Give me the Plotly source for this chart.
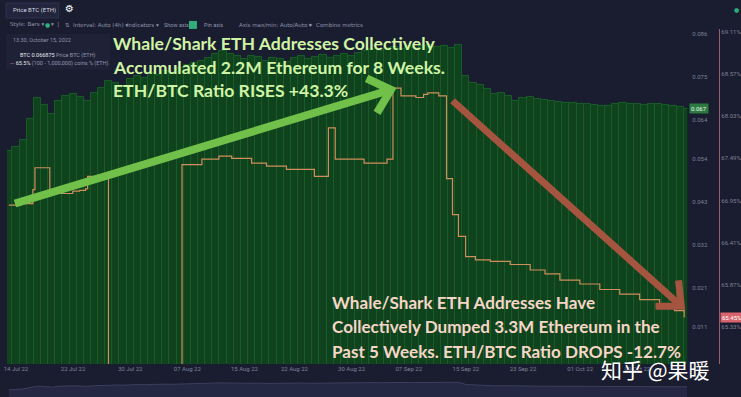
import math
import pandas as pd
import plotly.graph_objects as go

W, H = 741, 397

# ---------------- data ----------------
price_start = "2022-07-13"
price_btc = [
    0.0560, 0.0572, 0.0590, 0.0642, 0.0696, 0.0678, 0.0655, 0.0688, 0.0701, 0.0706,
    0.0698, 0.0688, 0.0709, 0.0721, 0.0739, 0.0734, 0.0727, 0.0745, 0.0752, 0.0747,
    0.0760, 0.0755, 0.0765, 0.0760, 0.0773, 0.0781, 0.0786, 0.0791, 0.0799, 0.0809,
    0.0816, 0.0809, 0.0804, 0.0796, 0.0804, 0.0801, 0.0791, 0.0799, 0.0796, 0.0788,
    0.0799, 0.0804, 0.0796, 0.0801, 0.0806, 0.0799, 0.0804, 0.0809, 0.0804, 0.0811,
    0.0816, 0.0822, 0.0816, 0.0824, 0.0827, 0.0822, 0.0829, 0.0824, 0.0829, 0.0832,
    0.0827, 0.0829, 0.0824, 0.0832, 0.0752, 0.0734, 0.0729, 0.0719, 0.0706, 0.0709,
    0.0701, 0.0688, 0.0696, 0.0698, 0.0693, 0.0691, 0.0688, 0.0685, 0.0683, 0.0683,
    0.0680, 0.0680, 0.0678, 0.0675, 0.0675, 0.0680, 0.0683, 0.0680, 0.0680, 0.0678,
    0.0680, 0.0680, 0.0678, 0.0675, 0.0673, 0.0669,
]

whale_times = [
    "2022-07-13 00:00", "2022-07-14 17:00", "2022-07-16 09:00", "2022-07-16 16:00",
    "2022-07-18 18:00", "2022-07-21 23:00", "2022-07-22 22:00", "2022-07-23 18:00",
    "2022-07-24 01:00", "2022-07-25 13:00", "2022-07-26 23:00", "2022-08-06 06:00",
    "2022-08-09 01:00", "2022-08-11 10:00", "2022-08-13 05:00", "2022-08-16 00:00",
    "2022-08-18 02:00", "2022-08-20 21:00", "2022-08-24 19:00", "2022-08-26 18:00",
    "2022-08-27 17:00", "2022-08-31 18:00", "2022-09-03 23:00", "2022-09-04 19:00",
    "2022-09-05 22:00", "2022-09-08 00:00", "2022-09-09 02:00", "2022-09-09 16:00",
    "2022-09-11 05:00", "2022-09-12 07:00", "2022-09-13 03:00", "2022-09-13 23:00",
    "2022-09-14 23:00", "2022-09-16 08:00", "2022-09-18 10:00", "2022-09-21 05:00",
    "2022-09-24 00:00", "2022-09-26 02:00", "2022-09-28 04:00", "2022-09-30 23:00",
    "2022-10-03 18:00", "2022-10-06 13:00", "2022-10-09 08:00", "2022-10-12 03:00",
    "2022-10-14 05:00", "2022-10-15 13:30",
]
whale_pct = [
    66.89, 66.91, 67.09, 67.37,
    67.04, 67.07, 67.08, 67.10,
    67.26, 67.28, 60.00, 67.41,
    67.48, 67.52, 67.49, 67.43,
    67.39, 67.35, 67.26, 67.88,
    67.48, 67.43, 67.48, 68.39,
    68.29, 68.27, 68.31, 68.33,
    68.29, 67.23, 66.77, 66.49,
    66.23, 66.19, 66.17, 66.13,
    66.06, 66.01, 65.93, 65.88,
    65.81, 65.75, 65.68, 65.61,
    65.54, 65.45,
]

x_tick_dates = ["2022-07-14", "2022-07-22", "2022-07-30", "2022-08-07", "2022-08-15",
                "2022-08-22", "2022-08-30", "2022-09-07", "2022-09-15", "2022-09-23",
                "2022-10-01", "2022-10-09"]
x_tick_text = ["14 Jul 22", "22 Jul 22", "30 Jul 22", "07 Aug 22", "15 Aug 22",
               "22 Aug 22", "30 Aug 22", "07 Sep 22", "15 Sep 22", "23 Sep 22",
               "01 Oct 22", "09 Oct 22"]
price_ticks = [0.011, 0.021, 0.032, 0.043, 0.054, 0.064, 0.075, 0.086]
pct_ticks = [65.33, 65.87, 66.41, 66.95, 67.49, 68.03, 68.57, 69.11]

price_dates = pd.date_range(price_start, periods=len(price_btc), freq="D")

# ---------------- styling ----------------
BG = "#1a1d2f"
AX = "#7d8199"


def px(x):
    return x / W


def py(y):
    return 1 - y / H


fig = go.Figure()

fig.add_trace(go.Bar(
    x=price_dates, y=price_btc, width=86400000,
    marker=dict(color="#0f421d", line=dict(color="#185e29", width=1)),
    xaxis="x", yaxis="y", hoverinfo="skip", showlegend=False,
))
fig.add_trace(go.Scatter(
    x=whale_times, y=whale_pct, mode="lines",
    line=dict(color="#cf8e5c", width=1.2, shape="hv"),
    xaxis="x", yaxis="y2", hoverinfo="skip", showlegend=False,
))
# navigator
fig.add_trace(go.Scatter(
    x=price_dates, y=price_btc, mode="lines", fill="tozeroy",
    line=dict(color="#3a3f5e", width=1), fillcolor="#252842",
    xaxis="x2", yaxis="y3", hoverinfo="skip", showlegend=False,
))

xr = ["2022-07-12 18:00", "2022-10-16 00:00"]
fig.update_layout(
    width=W, height=H,
    margin=dict(l=0, r=0, t=0, b=0),
    paper_bgcolor=BG, plot_bgcolor=BG,
    bargap=0,
    xaxis=dict(domain=[px(4), px(688)], range=xr, type="date",
               tickvals=x_tick_dates, ticktext=x_tick_text,
               tickfont=dict(size=6, color=AX, family="Roboto"),
               showgrid=False, zeroline=False, showline=False, ticks="",
               anchor="y"),
    yaxis=dict(domain=[py(364), py(28)], range=[0.0015, 0.0873], side="right",
               tickvals=price_ticks, ticktext=[f"{v:.3f}" for v in price_ticks],
               tickfont=dict(size=6, color=AX, family="Roboto"),
               showgrid=False, zeroline=False, showline=False, ticks="",
               ticklabelstandoff=4, anchor="x"),
    yaxis2=dict(overlaying="y", range=[64.854, 69.149], side="right",
                anchor="free", position=px(720),
                tickvals=pct_ticks, ticktext=[f"{v:.2f}%" for v in pct_ticks],
                tickfont=dict(size=6, color=AX, family="Roboto"),
                showgrid=False, zeroline=False, showline=True,
                linecolor="#9a5f6c", linewidth=1, ticks=""),
    xaxis2=dict(domain=[px(4), px(688)], range=xr, type="date", visible=False,
                anchor="y3"),
    yaxis3=dict(domain=[0, py(379)], range=[0.03, 0.095], visible=False,
                anchor="x2"),
)

shapes = []
annotations = []

# header / info panel boxes
shapes.append(dict(type="rect", xref="paper", yref="paper", x0=px(3), x1=px(56),
                   y0=py(17), y1=py(2), fillcolor="#22253b",
                   line=dict(color="#2e3250", width=1), layer="above"))
shapes.append(dict(type="rect", xref="paper", yref="paper", x0=px(3), x1=px(108),
                   y0=py(69), y1=py(33), fillcolor="#1f2236",
                   line=dict(width=0), layer="above"))
shapes.append(dict(type="rect", xref="paper", yref="paper", x0=px(187), x1=px(195),
                   y0=py(28), y1=py(20), fillcolor="#2fae7a",
                   line=dict(width=0), layer="above"))


def txt(x, y, s, size=5.5, color="#9095ad", anchor="left", family="Roboto", **kw):
    annotations.append(dict(x=px(x), y=py(y), xref="paper", yref="paper", text=s,
                            showarrow=False, xanchor=anchor, yanchor="middle",
                            font=dict(size=size, color=color, family=family), **kw))


txt(8, 9, "Price BTC (ETH)", size=6, color="#d6d8e4")
txt(67, 8, "⚙", size=10, color="#ffffff", anchor="center", family="DejaVu Sans")
txt(737, 9, "●", size=6, color="#2fae7a", anchor="center", family="DejaVu Sans")
txt(5, 24, "Style: Bars ▾", family="DejaVu Sans")
txt(40, 24, "●", size=6, color="#2fae7a", family="DejaVu Sans")
txt(46, 24, "▾  |", family="DejaVu Sans")
txt(60, 24, "⇅  Interval: Auto (4h) ▾", family="DejaVu Sans")
txt(123, 24, "Indicators ▾", family="DejaVu Sans")
txt(160, 24, "Show axis")
txt(200, 24, "Pin axis")
txt(235, 24, "Axis max/min: Auto/Auto ▾", family="DejaVu Sans")
txt(305, 24, "✦  Combine metrics", family="DejaVu Sans")
txt(8, 39, "13:30, October 15, 2022", size=5.5, color="#8a8fa6")
txt(15, 55, "<span style='color:#e6e8f0'>BTC 0.066875</span> Price BTC (ETH)", size=5.5)
txt(5, 63, "<span style='color:#d08a5c'>—</span> <span style='color:#e6e8f0'>65.5%</span> (100 - 1,000,000) coins % (ETH)", size=5.5)

# value tags on right axes
last_price = price_btc[-1]
annotations.append(dict(x=px(690), xref="paper", y=last_price, yref="y",
                        text=f"{last_price:.3f}", showarrow=False, xanchor="left",
                        yanchor="middle", bgcolor="#2d7a41",
                        font=dict(size=6, color="#e8ffe8", family="Roboto")))
last_pct = whale_pct[-1]
annotations.append(dict(x=px(721), xref="paper", y=last_pct, yref="y2",
                        text=f"{last_pct:.2f}%", showarrow=False, xanchor="left",
                        yanchor="middle", bgcolor="#d9646e",
                        font=dict(size=6, color="#ffffff", family="Roboto")))


def arrow(x0, y0, x1, y1, color, width, head, ang):
    shapes.append(dict(type="line", xref="paper", yref="paper",
                       x0=px(x0), y0=py(y0), x1=px(x1), y1=py(y1),
                       line=dict(color=color, width=width), layer="above"))
    th = math.atan2(y0 - y1, x0 - x1)
    a = math.radians(ang)
    ax1 = x1 + head * math.cos(th + a)
    ay1 = y1 + head * math.sin(th + a)
    ax2 = x1 + head * math.cos(th - a)
    ay2 = y1 + head * math.sin(th - a)
    path = (f"M {px(ax1)},{py(ay1)} L {px(x1)},{py(y1)} L {px(ax2)},{py(ay2)}")
    shapes.append(dict(type="path", xref="paper", yref="paper", path=path,
                       line=dict(color=color, width=width), layer="above"))


arrow(12, 203, 390, 89, "#70c04a", 8, 27, 42)
arrow(452, 100, 682, 306, "#a5553f", 7, 26, 42)

# big commentary text
green_lines = ["Whale/Shark ETH Addresses Collectively",
               "Accumulated 2.2M Ethereum for 8 Weeks.",
               "ETH/BTC Ratio RISES +43.3%"]
for i, s in enumerate(green_lines):
    txt(109, 43 + 23.5 * i, f"<b>{s}</b>", size=17.6, color="#d0f4a6", family="Lato")

red_lines = ["Whale/Shark ETH Addresses Have",
             "Collectively Dumped 3.3M Ethereum in the",
             "Past 5 Weeks. ETH/BTC Ratio DROPS -12.7%"]
for i, s in enumerate(red_lines):
    txt(329, 302 + 24.5 * i, f"<b>{s}</b>", size=17.1, color="#f6d6c6", family="Lato")

txt(656, 369, "知乎 @果暖", size=21, color="#ffffff", anchor="center",
    family="Noto Sans CJK SC")

fig.update_layout(shapes=shapes, annotations=annotations)
fig.write_html("out.html")
